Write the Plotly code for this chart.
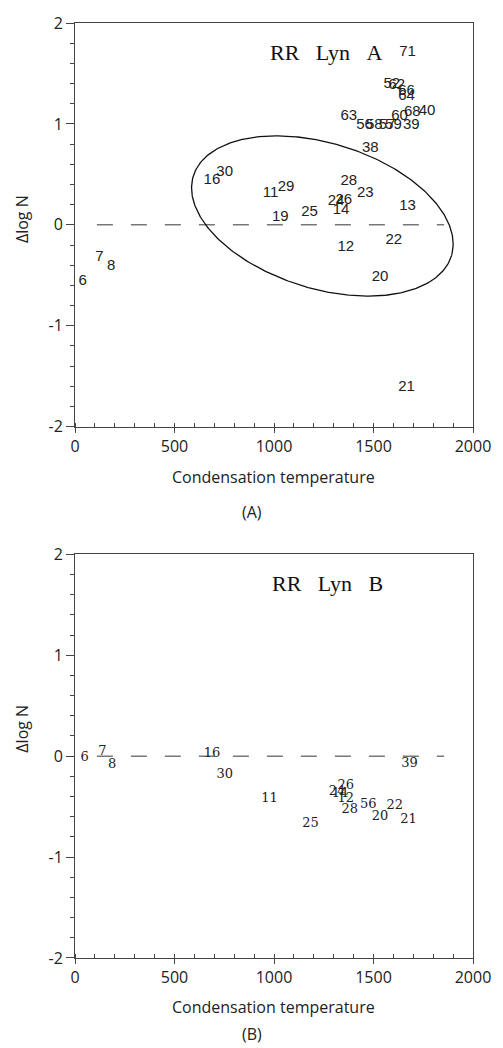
import numpy as np
import plotly.graph_objects as go

# ---------------- data ----------------
# Panel A: RR Lyn A  (label, condensation temperature, delta log N)
A_labels = ["6", "7", "8", "16", "30", "11", "29", "19", "25", "28", "23", "24", "26", "14",
            "13", "22", "12", "20", "21", "38", "63", "71", "52", "62", "66", "64", "40",
            "68", "60", "56", "58", "57", "59", "39"]
A_tc = [39, 123, 182, 688, 752, 983, 1061, 1032, 1179, 1376, 1459, 1312, 1351, 1337,
        1671, 1602, 1361, 1533, 1666, 1484, 1376, 1671, 1592, 1617, 1666, 1666, 1769,
        1695, 1631, 1455, 1504, 1568, 1600, 1690]
A_dlog = [-0.56, -0.32, -0.41, 0.44, 0.52, 0.31, 0.37, 0.08, 0.12, 0.43, 0.31, 0.23, 0.24, 0.14,
          0.18, -0.15, -0.22, -0.52, -1.61, 0.76, 1.08, 1.71, 1.39, 1.38, 1.32, 1.27, 1.13,
          1.12, 1.08, 0.99, 0.99, 0.99, 0.99, 0.99]

# Panel B: RR Lyn B
B_labels = ["6", "7", "8", "16", "30", "11", "25", "39", "24", "14", "26", "12", "28",
            "56", "22", "20", "21"]
B_tc = [49, 138, 187, 688, 752, 978, 1184, 1681, 1317, 1332, 1361, 1361, 1381,
        1474, 1607, 1533, 1676]
B_dlog = [-0.02, 0.04, -0.09, 0.02, -0.18, -0.42, -0.67, -0.08, -0.35, -0.37, -0.29, -0.42, -0.53,
          -0.48, -0.49, -0.60, -0.63]

x_ticks = [0, 500, 1000, 1500, 2000]
y_ticks = [-2, -1, 0, 1, 2]
y_ticktext = ["-2", "-1", "0", "1", "2"]

ref_line_x = [110, 1855]   # extent of dashed zero line
ref_line_y = [0, 0]

# ellipse (panel A): centre in data units, semi-axes in pixels, tilt in degrees
ell_cx, ell_cy = 1243, 0.088
ell_a_px, ell_b_px, ell_angle = 138, 73.5, 16.9

# ---------------- layout geometry ----------------
W, H = 503, 1048
ML, MR, MT, MB = 75, 21, 13, 90
plot_w = W - ML - MR           # 407
plot_h_total = H - MT - MB     # 945
panel_h = 408
dom_A = [1 - panel_h / plot_h_total, 1]
dom_B = [0, panel_h / plot_h_total]
px_per_x = plot_w / 2000
px_per_y = panel_h / 4

t = np.linspace(0, 2 * np.pi, 361)
th = np.deg2rad(ell_angle)
ex_px = ell_a_px * np.cos(th) * np.cos(t) - ell_b_px * np.sin(th) * np.sin(t)
ey_px = ell_a_px * np.sin(th) * np.cos(t) + ell_b_px * np.cos(th) * np.sin(t)
ell_x = ell_cx + ex_px / px_per_x
ell_y = ell_cy - ey_px / px_per_y

lab_col = "#222222"
fig = go.Figure()

# Panel A
fig.add_trace(go.Scatter(x=ref_line_x, y=ref_line_y, mode="lines",
                         line=dict(color="#333333", width=1, dash="16px,18px"),
                         xaxis="x", yaxis="y", hoverinfo="skip"))
fig.add_trace(go.Scatter(x=ell_x, y=ell_y, mode="lines",
                         line=dict(color="#111111", width=1.3),
                         xaxis="x", yaxis="y", hoverinfo="skip"))
fig.add_trace(go.Scatter(x=A_tc, y=A_dlog, text=A_labels, mode="text",
                         textposition="middle center",
                         textfont=dict(family="Liberation Sans", size=15, color=lab_col),
                         xaxis="x", yaxis="y"))

# Panel B
fig.add_trace(go.Scatter(x=ref_line_x, y=ref_line_y, mode="lines",
                         line=dict(color="#333333", width=1, dash="16px,18px"),
                         xaxis="x2", yaxis="y2", hoverinfo="skip"))
fig.add_trace(go.Scatter(x=B_tc, y=B_dlog, text=B_labels, mode="text",
                         textposition="middle center",
                         textfont=dict(family="DejaVu Serif", size=13, color=lab_col),
                         xaxis="x2", yaxis="y2"))

tick_font = dict(family="Open Sans", size=16, color="#222222")

def xaxis_cfg(anchor):
    return dict(anchor=anchor, domain=[0, 1], range=[0, 2000], tickvals=x_ticks,
                ticks="outside", ticklen=5, tickcolor="#444", tickwidth=1,
                minor=dict(ticks="inside", ticklen=4, dtick=100, tickcolor="#444", showgrid=False),
                showline=True, linecolor="#444", linewidth=1, mirror=True,
                showgrid=False, zeroline=False, tickfont=tick_font)

def yaxis_cfg(anchor, dom):
    return dict(anchor=anchor, domain=dom, range=[-2, 2], tickvals=y_ticks, ticktext=y_ticktext,
                ticks="outside", ticklen=8, tickcolor="#444", tickwidth=1,
                minor=dict(ticks="outside", ticklen=4, dtick=0.2, tickcolor="#444", showgrid=False),
                showline=True, linecolor="#444", linewidth=1, mirror=True,
                showgrid=False, zeroline=False, tickfont=tick_font)

# positions below are given in window pixels and converted to paper fractions
def py2paper(py):
    return (H - MB - py) / plot_h_total

def px2paper(px):
    return (px - ML) / plot_w

ann_font = dict(family="Open Sans", size=16, color="#222222")
title_font = dict(family="Liberation Serif", size=22, color="#111111")
title_A = "RR\u00a0\u00a0\u00a0Lyn\u00a0\u00a0\u00a0A"
title_B = "RR\u00a0\u00a0\u00a0Lyn\u00a0\u00a0\u00a0B"
annotations = [
    dict(text="Condensation temperature", x=px2paper(278), y=py2paper(472), xref="paper", yref="paper",
         showarrow=False, font=ann_font, xanchor="center", yanchor="middle"),
    dict(text="(A)", x=px2paper(256), y=py2paper(507), xref="paper", yref="paper",
         showarrow=False, font=ann_font, xanchor="center", yanchor="middle"),
    dict(text="Condensation temperature", x=px2paper(278), y=py2paper(1008), xref="paper", yref="paper",
         showarrow=False, font=ann_font, xanchor="center", yanchor="middle"),
    dict(text="(B)", x=px2paper(256), y=py2paper(1035), xref="paper", yref="paper",
         showarrow=False, font=ann_font, xanchor="center", yanchor="middle"),
    dict(text="Δlog N", x=px2paper(21), y=py2paper(211), xref="paper", yref="paper", textangle=-90,
         showarrow=False, font=ann_font, xanchor="center", yanchor="middle"),
    dict(text="Δlog N", x=px2paper(21), y=py2paper(726), xref="paper", yref="paper", textangle=-90,
         showarrow=False, font=ann_font, xanchor="center", yanchor="middle"),
    dict(text=title_A, x=1558, y=1.71, xref="x", yref="y", showarrow=False,
         font=title_font, xanchor="right", yanchor="middle"),
    dict(text=title_B, x=1558, y=1.71, xref="x2", yref="y2", showarrow=False,
         font=title_font, xanchor="right", yanchor="middle"),
]

fig.update_layout(
    width=W, height=H, autosize=False,
    margin=dict(l=ML, r=MR, t=MT, b=MB),
    paper_bgcolor="white", plot_bgcolor="white",
    showlegend=False,
    xaxis=xaxis_cfg("y"), yaxis=yaxis_cfg("x", dom_A),
    xaxis2=xaxis_cfg("y2"), yaxis2=yaxis_cfg("x2", dom_B),
    annotations=annotations,
)

# remove the default page margin so the figure fills the window exactly
fig.write_html("out.html",
               config={"displayModeBar": False},
               post_script="document.body.style.margin='0px';document.body.style.overflow='hidden';")
